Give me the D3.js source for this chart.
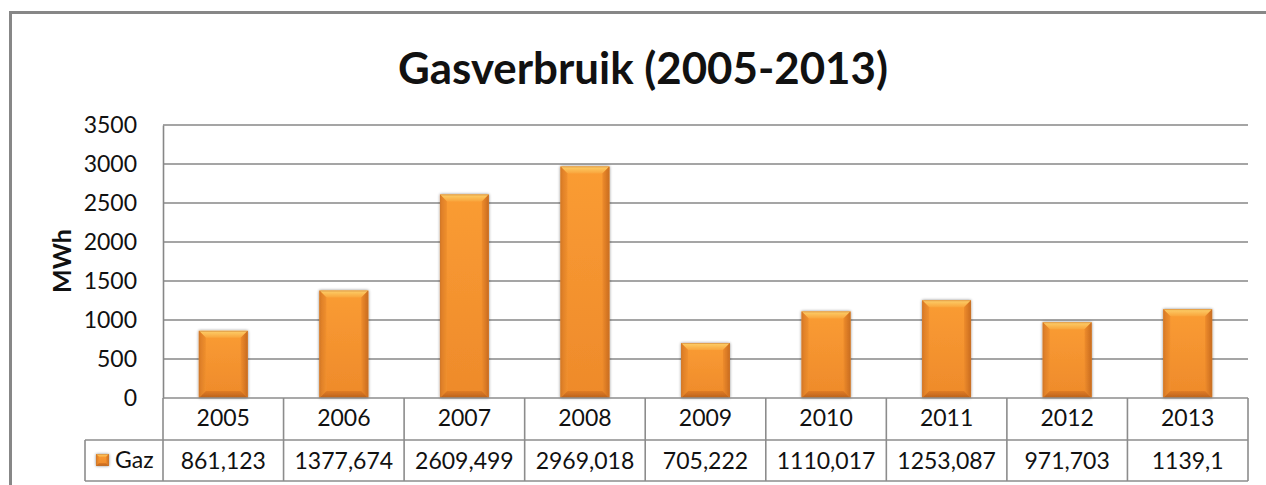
<!DOCTYPE html>
<html><head><meta charset="utf-8">
<script src="https://cdn.jsdelivr.net/npm/d3@7"></script>
<style>
html,body{margin:0;padding:0;background:#fff;}
svg{display:block;}
text{font-family:Lato,"Open Sans",sans-serif;fill:#111;}
</style></head>
<body>
<script>
const categories = ["2005","2006","2007","2008","2009","2010","2011","2012","2013"];
const gazValues = [861.123,1377.674,2609.499,2969.018,705.222,1110.017,1253.087,971.703,1139.1];
const seriesName = "Gaz";
const yTicks = [0,500,1000,1500,2000,2500,3000,3500];
const title = "Gasverbruik (2005-2013)";
const yLabel = "MWh";

const W = 1266, H = 485;
const svg = d3.select("body").append("svg").attr("width", W).attr("height", H);
const defs = svg.append("defs");

const g1 = defs.append("linearGradient").attr("id","body").attr("x1",0).attr("y1",0).attr("x2",0).attr("y2",1);
g1.append("stop").attr("offset","0%").attr("stop-color","#FA9C33");
g1.append("stop").attr("offset","100%").attr("stop-color","#EE8A2B");
const g2 = defs.append("linearGradient").attr("id","topb").attr("x1",0).attr("y1",0).attr("x2",0).attr("y2",1);
g2.append("stop").attr("offset","0%").attr("stop-color","#FDD06A");
g2.append("stop").attr("offset","100%").attr("stop-color","#F9A53C");
const g3 = defs.append("linearGradient").attr("id","sideL").attr("x1",0).attr("y1",0).attr("x2",1).attr("y2",0);
g3.append("stop").attr("offset","0%").attr("stop-color","#D97A26");
g3.append("stop").attr("offset","100%").attr("stop-color","#F0902E");
const g4 = defs.append("linearGradient").attr("id","sideR").attr("x1",0).attr("y1",0).attr("x2",1).attr("y2",0);
g4.append("stop").attr("offset","0%").attr("stop-color","#EE8C2C");
g4.append("stop").attr("offset","100%").attr("stop-color","#C96B1F");
const g5 = defs.append("linearGradient").attr("id","botb").attr("x1",0).attr("y1",0).attr("x2",0).attr("y2",1);
g5.append("stop").attr("offset","0%").attr("stop-color","#E07C25");
g5.append("stop").attr("offset","100%").attr("stop-color","#B9611C");
const f = defs.append("filter").attr("id","shadow").attr("x","-30%").attr("y","-30%").attr("width","160%").attr("height","160%");
f.append("feGaussianBlur").attr("in","SourceAlpha").attr("stdDeviation",1.6).attr("result","b");
f.append("feOffset").attr("in","b").attr("dx",0).attr("dy",0).attr("result","o");
f.append("feComponentTransfer").attr("in","o").attr("result","o2").append("feFuncA").attr("type","linear").attr("slope",0.45);
const fm = f.append("feMerge"); fm.append("feMergeNode").attr("in","o2"); fm.append("feMergeNode").attr("in","SourceGraphic");

svg.append("rect").attr("x",10.5).attr("y",12.5).attr("width",W+20).attr("height",H+20)
  .attr("fill","none").attr("stroke","#878787").attr("stroke-width",3);

const plot = {left:163, right:1248, top:125, bottom:398};
const x = d3.scaleBand().domain(categories).range([plot.left, plot.right]).paddingInner(0).paddingOuter(0);
const y = d3.scaleLinear().domain([0,3500]).range([plot.bottom, plot.top]);

// title, fitted to the reference width
const t = svg.append("text").attr("text-anchor","middle")
  .style("font-size","43px").style("font-weight","bold").text(title);
const tw = t.node().getComputedTextLength();
const sx = 490 / tw;
t.attr("transform", `translate(643,84) scale(${sx},1)`);

svg.append("g").selectAll("line").data(yTicks.filter(d=>d>0)).join("line")
  .attr("x1",plot.left).attr("x2",plot.right).attr("y1",d=>y(d)).attr("y2",d=>y(d))
  .attr("stroke","#878787").attr("stroke-width",1.6);

const yAxis = svg.append("g").attr("transform",`translate(${plot.left},0)`)
  .call(d3.axisLeft(y).tickValues(yTicks).tickSize(0).tickPadding(26).tickFormat(d3.format("d")));
yAxis.select(".domain").attr("stroke","#878787").attr("stroke-width",1.6);
yAxis.selectAll("text").style("font-size","23px").style("font-family","Lato,sans-serif").attr("fill","#111");

svg.append("text").attr("transform","translate(71,261) rotate(-90)").attr("text-anchor","middle")
  .style("font-size","25px").style("font-weight","bold").text(yLabel);

function drawBar(g, bx, by, bw, bh, bev) {
  const gg = g.append("g").attr("filter","url(#shadow)");
  gg.append("rect").attr("x",bx).attr("y",by).attr("width",bw).attr("height",bh).attr("fill","url(#body)");
  const b = Math.min(bev, bh/2);
  gg.append("path").attr("d",`M${bx},${by}L${bx+bw},${by}L${bx+bw-b},${by+b}L${bx+b},${by+b}Z`).attr("fill","url(#topb)");
  gg.append("path").attr("d",`M${bx},${by}L${bx+b},${by+b}L${bx+b},${by+bh-b}L${bx},${by+bh}Z`).attr("fill","url(#sideL)");
  gg.append("path").attr("d",`M${bx+bw},${by}L${bx+bw-b},${by+b}L${bx+bw-b},${by+bh-b}L${bx+bw},${by+bh}Z`).attr("fill","url(#sideR)");
  gg.append("path").attr("d",`M${bx},${by+bh}L${bx+b},${by+bh-b}L${bx+bw-b},${by+bh-b}L${bx+bw},${by+bh}Z`).attr("fill","url(#botb)");
  gg.append("rect").attr("x",bx+0.5).attr("y",by+0.5).attr("width",bw-1).attr("height",bh-1).attr("fill","none").attr("stroke","#C9772F").attr("stroke-opacity",0.5);
}
const barW = x.bandwidth()*0.405;
const bars = svg.append("g");
categories.forEach((c,i)=>{
  const v = gazValues[i];
  const bx = x(c) + (x.bandwidth()-barW)/2;
  drawBar(bars, bx, y(v), barW, y(0)-y(v), 7);
});

const tbl = svg.append("g");
const rowTop = 398, rowMid = 440, rowBot = 481, legLeft = 85;
const lc = "#8C8C8C";
tbl.append("line").attr("x1",plot.left).attr("x2",plot.right).attr("y1",rowTop).attr("y2",rowTop).attr("stroke",lc).attr("stroke-width",1.6);
tbl.append("line").attr("x1",legLeft).attr("x2",plot.right).attr("y1",rowMid).attr("y2",rowMid).attr("stroke",lc).attr("stroke-width",1.6);
tbl.append("line").attr("x1",legLeft).attr("x2",plot.right).attr("y1",rowBot).attr("y2",rowBot).attr("stroke",lc).attr("stroke-width",1.6);
tbl.append("line").attr("x1",legLeft).attr("x2",legLeft).attr("y1",rowMid).attr("y2",rowBot).attr("stroke",lc).attr("stroke-width",1.6);
const vlines = categories.map(c=>x(c)).concat([plot.right]);
tbl.selectAll("line.v").data(vlines).join("line").attr("class","v")
  .attr("x1",d=>d).attr("x2",d=>d).attr("y1",rowTop).attr("y2",rowBot).attr("stroke",lc).attr("stroke-width",1.6);
tbl.selectAll("text.cat").data(categories).join("text").attr("class","cat")
  .attr("x",d=>x(d)+x.bandwidth()/2).attr("y",rowTop+28).attr("text-anchor","middle")
  .style("font-size","23px").text(d=>d);
tbl.selectAll("text.val").data(gazValues).join("text").attr("class","val")
  .attr("x",(d,i)=>x(categories[i])+x.bandwidth()/2).attr("y",rowMid+29).attr("text-anchor","middle")
  .style("font-size","23px").text(d=>String(d).replace(".",","));
drawBar(tbl, 96, 454, 13, 12, 3);
tbl.append("text").attr("x",115).attr("y",rowMid+28).style("font-size","23px").text(seriesName);
</script>
</body></html>
